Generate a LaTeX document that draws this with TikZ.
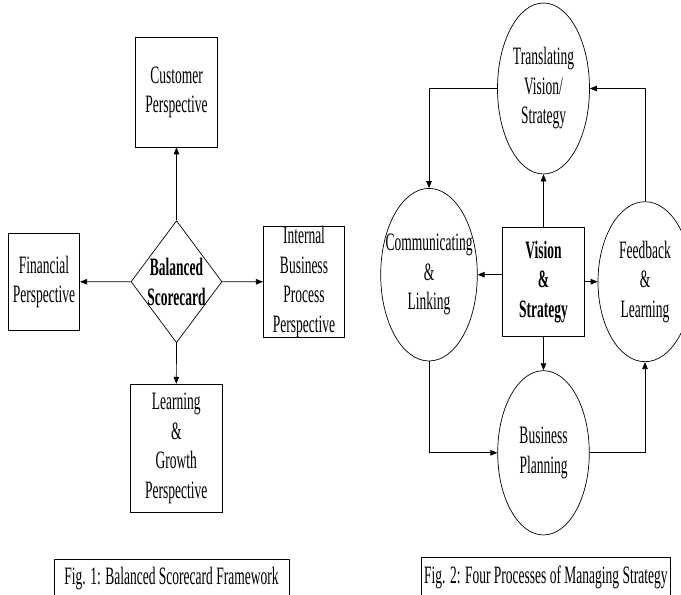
\documentclass[tikz,border=0pt]{standalone}
\usepackage{fontspec}
\setmainfont{Liberation Serif}[FakeStretch=0.54]
\usetikzlibrary{arrows.meta,shapes.geometric}
\newcommand{\figfont}{\fontsize{25}{29.5}\selectfont}
\tikzset{
  persp/.style={rectangle,draw,align=center,inner sep=0pt},
  core/.style={diamond,draw,align=center,aspect=0.75,inner sep=-8pt,font=\figfont\bfseries},
  proc/.style={ellipse,draw,align=center,inner xsep=-14pt,inner ysep=-4pt},
  caption/.style={rectangle,draw,inner sep=0pt},
  flow/.style={-{Triangle[length=7pt,width=5.5pt]}}
}

\begin{document}
\begin{tikzpicture}[x=1pt,y=-1pt,line width=0.7pt,font=\figfont]
    \useasboundingbox (0,0) rectangle (681,595);

    % — Fig. 1: the four perspectives round the scorecard
    \node[core, minimum width=91pt, minimum height=122pt] (bsc) at (176.5,281.7) {Balanced\\Scorecard};
    \node[persp, minimum width=81.6pt, minimum height=109.3pt] (cust) at (176.5,92.3) {Customer\\Perspective};
    \node[persp, minimum width=71.4pt, minimum height=96.3pt] (fin) at (44,281.8) {Financial\\Perspective};
    \node[persp, minimum width=81.4pt, minimum height=109.7pt] (ibp) at (304,281.8) {Internal\\Business\\Process\\Perspective};
    \node[persp, minimum width=92pt, minimum height=128pt] (lg) at (176.3,448.2) {Learning\\\&\\Growth\\Perspective};

    \draw[flow] (bsc.north) -- (cust.south);
    \draw[flow] (bsc.west) -- (fin.east);
    \draw[flow] (bsc.east) -- (ibp.west);
    \draw[flow] (bsc.south) -- (lg.north);

    % — Fig. 2: the four processes round vision and strategy
    \node[persp, font=\figfont\bfseries, minimum width=81.3pt, minimum height=109.4pt] (vis) at (543.4,282) {Vision\\\&\\Strategy};
    \node[proc, minimum width=92pt, minimum height=171pt] (trans) at (543.5,88.5) {Translating\\Vision/\\Strategy};
    \node[proc, minimum width=96.6pt, minimum height=172.6pt] (comm) at (429,274.7) {Communicating\\\&\\Linking};
    \node[proc, minimum width=94pt, minimum height=160pt] (feed) at (645,281.7) {Feedback\\\&\\Learning};
    \node[proc, minimum width=91.6pt, minimum height=164.3pt] (bus) at (543.5,452.8) {Business\\Planning};

    \draw[flow] (trans.west) -| (comm.north);
    \draw[flow] (feed.north) |- (trans.east);
    \draw[flow] (vis.north) -- (trans.south);
    \draw[flow] (vis.west |- comm.east) -- (comm.east);
    \draw[flow] (vis.east |- feed.west) -- (feed.west);
    \draw[flow] (vis.south) -- (bus.north);
    \draw[flow] (comm.south) |- (bus.west);
    \draw[flow] (bus.east) -| (feed.south);

    % — Captions
    \node[caption, minimum width=235pt, minimum height=37.5pt] (cap1) at (171.5,578.3) {Fig. 1: Balanced Scorecard Framework};
    \node[caption, minimum width=248.3pt, minimum height=39.3pt] (cap2) at (545.9,577.4) {Fig. 2: Four Processes of Managing Strategy};
\end{tikzpicture}
\end{document}
